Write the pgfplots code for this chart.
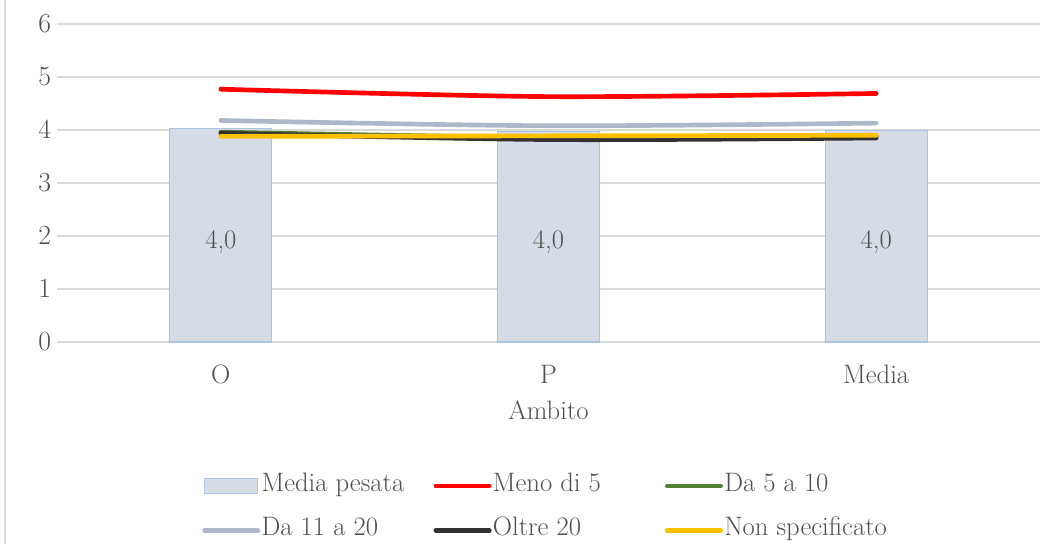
\documentclass[border=0pt]{standalone}
\usepackage{pgfplots}
\pgfplotsset{compat=1.18}
\definecolor{txt}{RGB}{80,80,80}
\definecolor{gridc}{RGB}{217,217,217}
\definecolor{barfill}{RGB}{214,220,229}
\definecolor{bardraw}{RGB}{170,196,228}
\definecolor{cred}{RGB}{255,0,0}
\definecolor{cgreen}{RGB}{84,130,53}
\definecolor{cgray}{RGB}{173,185,202}
\definecolor{cblack}{RGB}{50,50,50}
\definecolor{cyellow}{RGB}{255,192,0}
\begin{document}
\begin{tikzpicture}
\begin{axis}[
  scale only axis,
  width=737.25pt, height=238.5pt,
  xmin=-0.5, xmax=2.5, ymin=0, ymax=6,
  xtick={0,1,2}, xticklabels={O,P,Media},
  ytick={0,1,2,3,4,5,6},
  major tick length=0pt,
  axis line style={draw=none},
  ymajorgrids, grid style={gridc, line width=0.8pt},
  font=\fontsize{20}{24}\selectfont,
  tick label style={text=txt},
  xticklabel style={anchor=center, yshift=-24.5pt},
  yticklabel style={xshift=-1pt},
  xlabel={Ambito},
  xlabel style={text=txt, at={(axis description cs:0.5,-0.214)}, anchor=center},
  legend columns=3,
  legend style={draw=none, inner sep=0pt, column sep=0pt, row sep=17.5pt,
    at={(axis description cs:0.1475,-0.418)}, anchor=north west,
    font=\fontsize{20}{24}\selectfont, text=txt,
    nodes={inner xsep=1pt, inner ysep=0pt, text height=12pt, text depth=4pt}},
  legend image code/.code={\draw[#1, line cap=round] (0pt,0pt) -- (40pt,0pt);},
]
\addplot[ybar, bar width=76.5pt, fill=barfill, draw=bardraw, line width=0.8pt,
  area legend,
  legend image code/.code={\draw[fill=barfill, draw=bardraw, line width=0.8pt] (0pt,-5.5pt) rectangle (40pt,5.5pt);}]
  coordinates {(0,4.02) (1,3.98) (2,3.99)};
\addlegendentry{\makebox[128pt][l]{Media pesata}}
\addplot[cred, line width=3.5pt, smooth, mark=none, line cap=round] coordinates {(0,4.77) (1,4.63) (2,4.69)};
\addlegendentry{\makebox[128pt][l]{Meno di 5}}
\addplot[cgreen, line width=3.5pt, smooth, mark=none, line cap=round] coordinates {(0,3.96) (1,3.86) (2,3.88)};
\addlegendentry{\makebox[128pt][l]{Da 5 a 10}}
\addplot[cgray, line width=3.5pt, smooth, mark=none, line cap=round] coordinates {(0,4.18) (1,4.08) (2,4.13)};
\addlegendentry{\makebox[128pt][l]{Da 11 a 20}}
\addplot[cblack, line width=3.5pt, smooth, mark=none, line cap=round] coordinates {(0,3.94) (1,3.82) (2,3.85)};
\addlegendentry{\makebox[128pt][l]{Oltre 20}}
\addplot[cyellow, line width=3.5pt, smooth, mark=none, line cap=round] coordinates {(0,3.88) (1,3.89) (2,3.90)};
\addlegendentry{\makebox[128pt][l]{Non specificato}}
\addplot[draw=none, mark=none, forget plot, nodes near coords, point meta=explicit symbolic,
  every node near coord/.style={anchor=center, text=txt, font=\fontsize{20}{24}\selectfont}]
  coordinates {(0,1.89)[4,0] (1,1.89)[4,0] (2,1.89)[4,0]};
\end{axis}
\draw[gridc, line width=2.2pt] (-39pt,-151.5pt) -- (-39pt,256.5pt);
\pgfresetboundingbox
\path[use as bounding box] (-42.75pt,-151.5pt) rectangle (748.5pt,256.5pt);
\end{tikzpicture}
\end{document}
